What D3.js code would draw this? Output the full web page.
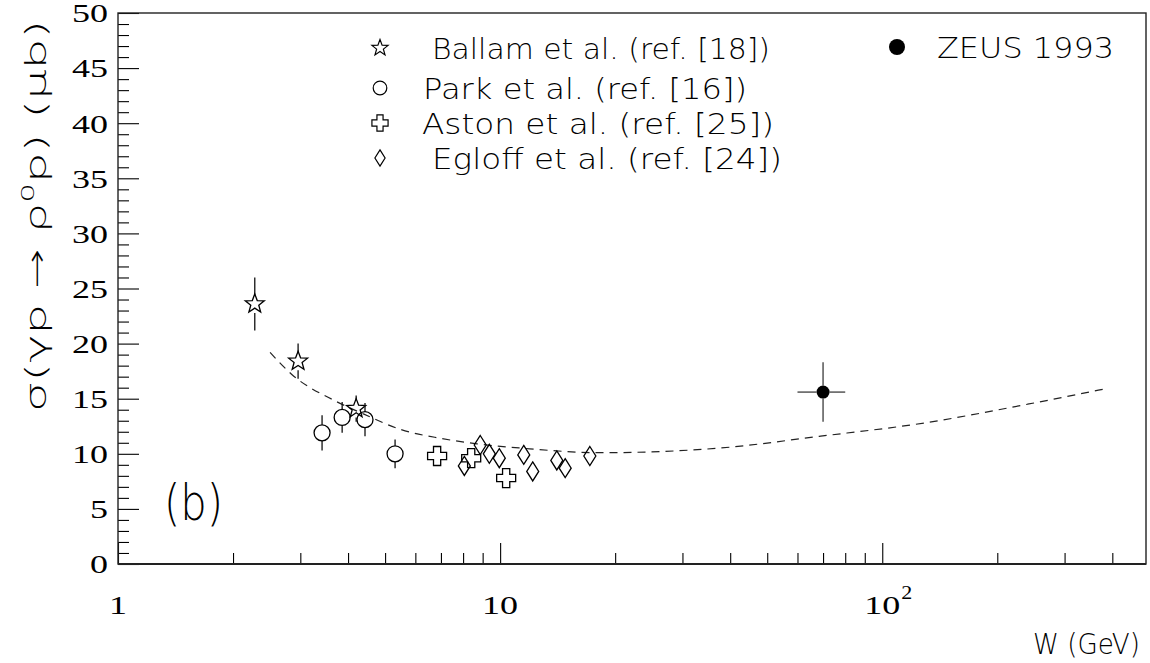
<!DOCTYPE html>
<html>
<head>
<meta charset="utf-8">
<script src="https://cdn.jsdelivr.net/npm/d3@7"></script>
<style>
  body { margin: 0; background: #fff; }
  svg { display: block; }
  .tick-label { font-family: "Liberation Serif", "Times New Roman", serif; font-size: 26px; fill: #000; }
  .hershey { font-family: "DejaVu Sans", sans-serif; font-weight: 200; fill: #000; }
</style>
</head>
<body>
<div id="chart"></div>
<script>
// --- Data ---
const ballamW = [2.28, 2.96, 4.2];
const ballamS = [23.6, 18.4, 14.1];
const ballamE = [2.4, 1.6, 1.2];

const parkW = [3.42, 3.86, 4.43, 5.31];
const parkS = [11.9, 13.3, 13.1, 10.0];
const parkE = [1.6, 1.4, 1.5, 1.3];

const astonW = [6.84, 8.4, 10.37];
const astonS = [9.8, 9.6, 7.8];

const egloffW = [8.06, 8.87, 9.37, 9.95, 11.53, 12.17, 14.07, 14.8, 17.17];
const egloffS = [8.9, 10.8, 10.0, 9.6, 9.9, 8.4, 9.4, 8.7, 9.8];

const zeusW = [70];
const zeusS = [15.6];
const zeusE = [2.7];
const zeusWlo = [60];
const zeusWhi = [80];

// dashed fit curve
const fitW = [2.5, 2.85, 3.7, 4.4, 5.5, 7.0, 8.7, 11.5, 18.4, 37, 69, 129, 240, 390];
const fitS = [19.2, 17.2, 14.8, 13.6, 12.2, 11.4, 10.9, 10.5, 10.1, 10.5, 11.6, 12.8, 14.5, 15.95];

const xMajor = [1, 10, 100];
const xMajorLabels = [["1", ""], ["10", ""], ["10", "2"]];
const xMinor = [2, 3, 4, 5, 6, 7, 8, 9, 20, 30, 40, 50, 60, 70, 80, 90, 200, 300, 400];
const yMajor = [0, 5, 10, 15, 20, 25, 30, 35, 40, 45, 50];
const yMinor = d3.range(0, 51).filter(v => v % 5 !== 0);

const legendLeft = [
  { name: "Ballam et al. (ref. [18])", marker: "star" },
  { name: "Park et al. (ref. [16])", marker: "circle" },
  { name: "Aston et al. (ref. [25])", marker: "plus" },
  { name: "Egloff et al. (ref. [24])", marker: "diamond" }
];

// --- Layout ---
const width = 1150, height = 663;
const plot = { left: 118, right: 1146, top: 13, bottom: 564 };
const digitW = 18; // the reference digits are a little stretched sideways

const x = d3.scaleLog().domain([1, 490]).range([plot.left, plot.right]);
const y = d3.scaleLinear().domain([0, 50]).range([plot.bottom, plot.top]);

const svg = d3.select("#chart").append("svg")
  .attr("width", width).attr("height", height);

// --- Marker shapes ---
function starPath(R) {
  const r = R * 0.42, p = d3.path();
  for (let i = 0; i < 10; i++) {
    const a = -Math.PI / 2 + i * Math.PI / 5;
    const rr = i % 2 === 0 ? R : r;
    if (i === 0) p.moveTo(rr * Math.cos(a), rr * Math.sin(a));
    else p.lineTo(rr * Math.cos(a), rr * Math.sin(a));
  }
  p.closePath();
  return p.toString();
}
function plusPath(a, t) {
  const pts = [[-t,-a],[t,-a],[t,-t],[a,-t],[a,t],[t,t],[t,a],[-t,a],[-t,t],[-a,t],[-a,-t],[-t,-t]];
  return "M" + pts.map(d => d.join(",")).join("L") + "Z";
}
function diamondPath(w, h) {
  return `M0,${-h}L${w},0L0,${h}L${-w},0Z`;
}
function markerPath(kind, s) {
  switch (kind) {
    case "star": return starPath(10 * s);
    case "plus": return plusPath(9.5 * s, 3.6 * s);
    case "diamond": return diamondPath(6 * s, 9.5 * s);
    case "circle": return d3.arc()({ innerRadius: 0, outerRadius: 8 * s, startAngle: 0, endAngle: 2 * Math.PI });
  }
}
const halfSize = { star: 9, circle: 8, plus: 9.5, diamond: 9.5, dot: 6.5 };

// --- Axes ---
const axisG = svg.append("g");

// y ticks (pointing inward) with labels
const yAxis = d3.axisLeft(y).tickValues(yMajor).tickSize(-21).tickPadding(10).tickFormat(d3.format("d"));
axisG.append("g").attr("transform", `translate(${plot.left},0)`).call(yAxis)
  .call(g => g.select(".domain").remove())
  .call(g => g.selectAll(".tick text")
    .attr("class", "tick-label").attr("font-size", null).attr("font-family", null)
    .attr("dy", "0.34em")
    .attr("textLength", d => String(d).length * digitW).attr("lengthAdjust", "spacingAndGlyphs"));
axisG.append("g").attr("transform", `translate(${plot.left},0)`)
  .call(d3.axisLeft(y).tickValues(yMinor).tickSize(-11).tickFormat(""))
  .call(g => g.select(".domain").remove());

// x ticks (pointing up)
axisG.append("g").attr("transform", `translate(0,${plot.bottom})`)
  .call(d3.axisBottom(x).tickValues(xMajor).tickSize(-21).tickFormat(""))
  .call(g => g.select(".domain").remove());
axisG.append("g").attr("transform", `translate(0,${plot.bottom})`)
  .call(d3.axisBottom(x).tickValues(xMinor).tickSize(-11).tickFormat(""))
  .call(g => g.select(".domain").remove());
axisG.selectAll(".tick line").attr("stroke", "#000").attr("stroke-width", 1.1);

// x tick labels
xMajor.forEach((v, i) => {
  const [base, sup] = xMajorLabels[i];
  const bw = base.length * digitW;
  svg.append("text").attr("class", "tick-label")
    .attr("x", x(v) - bw / 2).attr("y", 614)
    .attr("textLength", bw).attr("lengthAdjust", "spacingAndGlyphs")
    .text(base);
  if (sup) {
    svg.append("text").attr("class", "tick-label")
      .attr("x", x(v) + bw / 2 + 1).attr("y", 599)
      .style("font-size", "19px")
      .attr("textLength", 11).attr("lengthAdjust", "spacingAndGlyphs")
      .text(sup);
  }
});

// frame
svg.append("rect")
  .attr("x", plot.left).attr("y", plot.top)
  .attr("width", plot.right - plot.left).attr("height", plot.bottom - plot.top)
  .attr("fill", "none").attr("stroke", "#222").attr("stroke-width", 1.4);
svg.append("line")
  .attr("x1", plot.left).attr("x2", plot.right)
  .attr("y1", plot.bottom).attr("y2", plot.bottom)
  .attr("stroke", "#222").attr("stroke-width", 2.2);

// axis titles
svg.append("text").attr("class", "hershey")
  .attr("transform", "translate(46,216) rotate(-90)")
  .attr("text-anchor", "middle").attr("font-size", 28)
  .attr("textLength", 392).attr("lengthAdjust", "spacingAndGlyphs")
  .call(t => {
    t.append("tspan").text("σ(γp → ρ");
    t.append("tspan").attr("dy", -12).attr("font-size", 18).text("0");
    t.append("tspan").attr("dy", 12).text("p) (μb)");
  });

svg.append("text").attr("class", "hershey")
  .attr("x", 1033).attr("y", 654).attr("font-size", 28)
  .attr("textLength", 107).attr("lengthAdjust", "spacingAndGlyphs")
  .text("W (GeV)");

svg.append("text").attr("class", "hershey")
  .attr("x", 164).attr("y", 520).attr("font-size", 50)
  .attr("textLength", 59).attr("lengthAdjust", "spacingAndGlyphs")
  .text("(b)");

// --- Fit curve ---
const fitData = fitW.map((w, i) => ({ w, s: fitS[i] }));
svg.append("path")
  .datum(fitData)
  .attr("fill", "none").attr("stroke", "#222").attr("stroke-width", 1.2)
  .attr("stroke-dasharray", "8,6")
  .attr("d", d3.line().x(d => x(d.w)).y(d => y(d.s)).curve(d3.curveMonotoneX));

// --- Data points ---
function drawSeries(ws, ss, es, kind) {
  const data = ws.map((w, i) => ({ w, s: ss[i], e: es ? es[i] : 0 }));
  const g = svg.append("g");
  const hs = halfSize[kind];
  data.forEach(d => {
    const cx = x(d.w), cy = y(d.s);
    if (d.e && y(d.s - d.e) - cy > hs) {
      g.append("line").attr("x1", cx).attr("x2", cx).attr("y1", y(d.s + d.e)).attr("y2", cy - hs)
        .attr("stroke", "#111").attr("stroke-width", 1.3);
      g.append("line").attr("x1", cx).attr("x2", cx).attr("y1", cy + hs).attr("y2", y(d.s - d.e))
        .attr("stroke", "#111").attr("stroke-width", 1.3);
    }
  });
  g.selectAll("path.mk").data(data).join("path").attr("class", "mk")
    .attr("transform", d => `translate(${x(d.w)},${y(d.s)})`)
    .attr("d", markerPath(kind, 1))
    .attr("fill", "none").attr("stroke", "#000").attr("stroke-width", 1.3);
}
drawSeries(ballamW, ballamS, ballamE, "star");
drawSeries(parkW, parkS, parkE, "circle");
drawSeries(astonW, astonS, null, "plus");
drawSeries(egloffW, egloffS, null, "diamond");

// ZEUS point with both error bars
const zeus = zeusW.map((w, i) => ({ w, s: zeusS[i], e: zeusE[i], lo: zeusWlo[i], hi: zeusWhi[i] }));
const zg = svg.append("g");
zeus.forEach(d => {
  const cx = x(d.w), cy = y(d.s), hs = halfSize.dot;
  const seg = (x1, y1, x2, y2) => zg.append("line").attr("x1", x1).attr("y1", y1).attr("x2", x2).attr("y2", y2)
    .attr("stroke", "#555").attr("stroke-width", 1.5);
  seg(cx, y(d.s + d.e), cx, cy - hs);
  seg(cx, cy + hs, cx, y(d.s - d.e));
  seg(x(d.lo), cy, cx - hs, cy);
  seg(cx + hs, cy, x(d.hi), cy);
});
zg.selectAll("circle").data(zeus).join("circle")
  .attr("cx", d => x(d.w)).attr("cy", d => y(d.s)).attr("r", 6.5).attr("fill", "#000");

// --- Legend ---
const legendRowY = [48, 88, 123, 158];
const legendTextX = [432, 423, 422, 432];
const legendTextW = [338, 324, 352, 350];
const leg = svg.append("g");
legendLeft.forEach((item, i) => {
  leg.append("path").attr("transform", `translate(380,${legendRowY[i]})`)
    .attr("d", markerPath(item.marker, 0.85))
    .attr("fill", "none").attr("stroke", "#000").attr("stroke-width", 1.2);
  leg.append("text").attr("class", "hershey")
    .attr("x", legendTextX[i]).attr("y", legendRowY[i] + 11).attr("font-size", 29)
    .attr("textLength", legendTextW[i]).attr("lengthAdjust", "spacingAndGlyphs")
    .text(item.name);
});
leg.append("circle").attr("cx", 897).attr("cy", 47).attr("r", 8).attr("fill", "#000");
leg.append("text").attr("class", "hershey")
  .attr("x", 937).attr("y", 58).attr("font-size", 29)
  .attr("textLength", 177).attr("lengthAdjust", "spacingAndGlyphs")
  .text("ZEUS 1993");
</script>
</body>
</html>
